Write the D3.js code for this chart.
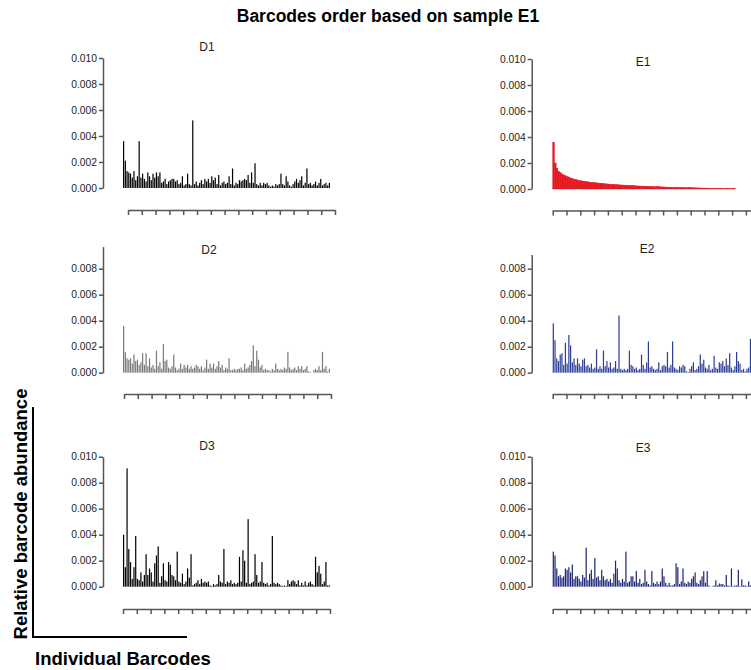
<!DOCTYPE html>
<html>
<head>
<meta charset="utf-8">
<script src="https://cdn.jsdelivr.net/npm/d3@7"></script>
<style>
  body { margin: 0; background: #fff; }
  text { font-family: "Liberation Sans", Arial, sans-serif; }
</style>
</head>
<body>
<div id="chart"></div>
<script>
// relative barcode abundance, in units of 1e-4, barcodes ordered by E1
const D1 = [36,21,13,12,11,8,13,6,9,36, 8,11,7,5,12,9,6,11,8,12,
  9,12,4,5,7,3,5,6,7,7, 5,6,3,4,9,2,3,11,3,2,
  52,3,5,2,4,6,3,7,5,7, 4,9,6,8,3,10,2,4,5,3,
  4,9,3,15,2,4,3,6,5,6, 7,6,10,4,12,4,19,3,2,4,
  2,4,3,4,2,1,2,1,3,2, 3,11,3,2,9,5,2,1,3,5,
  7,4,6,9,2,4,15,3,4,2, 3,5,2,4,7,2,3,4,2,4];
const D2 = [36,16,11,10,11,7,14,9,10,6, 8,15,6,15,5,11,4,6,3,17,
  5,8,3,22,9,10,4,3,5,14, 4,2,3,7,3,6,4,6,3,5,
  3,4,6,5,3,5,2,4,10,3, 7,4,7,3,5,9,4,6,2,4,
  3,11,2,2,3,2,3,3,4,2, 7,3,4,6,9,21,5,17,10,4,
  6,2,3,2,2,1,3,2,7,3, 2,3,2,4,3,16,4,2,3,4,
  2,5,3,5,2,3,5,1,0.5,0, 2,3,2,5,2,16,3,5,1,3];
const D3 = [40,15,91,29,19,6,15,39,6,5, 11,4,9,25,9,14,11,4,18,24,
  31,3,8,18,5,4,19,17,9,8, 5,27,4,3,10,2,4,14,7,25,
  1,2,3,5,2,6,3,4,3,4, 1,0.5,2,1,2,9,4,3,29,2,
  4,3,5,2,3,2,3,23,4,28, 20,3,52,2,3,4,25,9,3,4,
  19,3,2,3,1,2,39,3,2,3, 2,1,0.5,1,0.5,5,2,4,5,4,
  2,5,1,3,1,4,1,3,4,2, 1,23,11,16,10,2,4,19,1,1];
const E1 = [36,20,16,13.5,12.5,11.5,10.8,10.2,9.6,9.0, 8.5,8.0,7.5,7.2,6.9,6.6,6.3,6.1,5.9,5.7,
  5.5,5.3,5.1,5.0,4.9,4.7,4.6,4.4,4.3,4.2, 4.0,3.9,3.8,3.7,3.6,3.5,3.4,3.3,3.2,3.1,
  3.0,2.95,2.9,2.8,2.7,2.6,2.55,2.5,2.4,2.35, 2.3,2.25,2.2,2.1,2.05,2.0,1.95,1.9,1.8,1.78,
  1.75,1.7,1.65,1.6,1.55,1.5,1.45,1.4,1.38,1.35, 1.3,1.27,1.24,1.2,1.17,1.14,1.1,1.07,1.04,1.0,
  0.97,0.94,0.9,0.87,0.84,0.8,0.77,0.74,0.7,0.67, 0.64,0.6,0.57,0.54,0.51,0.48,0.45,0.43,0.4,0.38,
  0.35,0.33,0.3,0.28,0.26,0.24,0,0,0,0, 0,0,0,0,0,0,0,0,0,0];
const E2 = [38,25,11,9,14,15,6,23,7,29, 21,8,11,6,11,7,5,10,11,5,
  6,4,7,3,4,18,3,5,3,17, 5,9,4,8,3,4,9,3,44,3,
  2,3,2,3,17,6,5,3,4,2, 3,14,6,3,8,24,4,5,3,2,
  3,8,2,5,6,5,16,4,6,24, 4,3,2,5,4,6,5,1,0.5,3,
  5,8,2,3,5,14,7,10,4,3, 6,2,3,13,4,3,8,7,9,5,
  11,6,15,4,2,5,16,9,7,2, 3,1,3,4,26,3,3,2,4,2];
const E3 = [27,24,14,8,9,7,8,14,13,15, 11,17,6,8,8,6,4,9,7,30,
  5,10,13,6,22,7,8,5,13,8, 5,6,4,6,3,10,20,14,5,3,
  6,4,27,3,4,8,8,4,12,3, 6,2,3,13,4,2,1,12,3,2,
  4,2,4,14,8,3,1,3,1,1, 2,18,15,2,4,14,3,2,4,3,
  6,8,11,3,2,5,8,12,3,12, 1,0,0.3,1,5,1,2.5,2,2,1,
  9,1,0.5,14,0.5,1,1,13,0.5,5.6, 1,1,0.5,4,1,2,1,0.5,1,0.5];

const yTicksFull = [0, 20, 40, 60, 80, 100];
const yTicksShort = [0, 20, 40, 60, 80];
const xTicks = d3.range(16);

const W = 751, H = 670;
const pxPerUnit = 1.3;   // 26px per 0.002
const plotW = 207;

const svg = d3.select('#chart').append('svg')
  .attr('width', W).attr('height', H);

svg.append('text')
  .attr('x', 388).attr('y', 22)
  .attr('text-anchor', 'middle')
  .attr('font-size', 17.5).attr('font-weight', 'bold')
  .text('Barcodes order based on sample E1');

const panels = [
  { name: 'D1', values: D1, color: '#000000', pad: 0.3, axisX: 103, base: 188, top: 100, ticks: yTicksFull, barX0: 123, axisX0: 128, xAxisY: 210, tx: 207, ty: 47 },
  { name: 'D2', values: D2, color: '#7a7a7a', pad: 0.3, axisX: 103, base: 372.7, top: 97, ticks: yTicksShort, barX0: 123, axisX0: 124, xAxisY: 394, tx: 209, ty: 250 },
  { name: 'D3', values: D3, color: '#000000', pad: 0.3, axisX: 103, base: 586.7, top: 100, ticks: yTicksFull, barX0: 123, axisX0: 123, xAxisY: 609, tx: 207, ty: 446 },
  { name: 'E1', values: E1, color: '#e3161d', pad: 0, axisX: 531.7, base: 189, top: 100, ticks: yTicksFull, barX0: 552.7, axisX0: 552.7, xAxisY: 210.5, tx: 643, ty: 62 },
  { name: 'E2', values: E2, color: '#2d3d98', pad: 0.3, axisX: 531.7, base: 372.7, top: 91, ticks: yTicksShort, barX0: 552.7, axisX0: 552.7, xAxisY: 394, tx: 647, ty: 249 },
  { name: 'E3', values: E3, color: '#1d2678', pad: 0.3, axisX: 531.7, base: 586.7, top: 100, ticks: yTicksFull, barX0: 552.7, axisX0: 552.7, xAxisY: 609, tx: 643, ty: 448 }
];

panels.forEach(p => {
  const g = svg.append('g').attr('class', 'panel');

  const y = d3.scaleLinear()
    .domain([0, p.top])
    .range([p.base, p.base - p.top * pxPerUnit]);

  const xb = d3.scaleBand()
    .domain(d3.range(p.values.length))
    .range([p.barX0, p.barX0 + plotW])
    .paddingInner(p.pad)
    .paddingOuter(0);

  const bars = g.selectAll('rect')
    .data(p.values)
    .enter()
      .append('rect')
      .attr('x', (d, i) => xb(i))
      .attr('width', xb.bandwidth())
      .attr('y', d => y(d))
      .attr('height', d => p.base - y(d))
      .attr('fill', p.color);

  // a solid area (no seams) when bars touch
  if (p.pad === 0) bars.filter(d => d > 0).attr('stroke', p.color).attr('stroke-width', 0.4);

  const yAxis = g.append('g')
    .attr('transform', `translate(${p.axisX},0)`)
    .call(d3.axisLeft(y)
      .tickValues(p.ticks)
      .tickSize(4)
      .tickSizeOuter(0)
      .tickPadding(2)
      .tickFormat(d => (d / 1e4).toFixed(3)));

  const xs = d3.scaleLinear().domain([0, 15]).range([p.axisX0, p.axisX0 + plotW]);
  const xAxis = g.append('g')
    .attr('transform', `translate(0,${p.xAxisY})`)
    .call(d3.axisBottom(xs)
      .tickValues(xTicks)
      .tickSize(5)
      .tickSizeOuter(0)
      .tickFormat(''));

  [yAxis, xAxis].forEach(a => {
    a.selectAll('path, line').attr('stroke', '#555').attr('stroke-width', 1.5);
    a.selectAll('text').attr('fill', '#222').attr('font-size', 10.3)
      .attr('font-family', '"Liberation Sans", Arial, sans-serif');
  });

  g.append('text')
    .attr('x', p.tx).attr('y', p.ty)
    .attr('text-anchor', 'middle')
    .attr('dominant-baseline', 'central')
    .attr('font-size', 12).attr('fill', '#222')
    .text(p.name);
});

// overall axes in the lower-left corner
svg.append('path')
  .attr('d', 'M33,407V637H187')
  .attr('fill', 'none').attr('stroke', '#000').attr('stroke-width', 2);

svg.append('text')
  .attr('transform', 'translate(27,514) rotate(-90)')
  .attr('text-anchor', 'middle')
  .attr('font-size', 18.5).attr('font-weight', 'bold')
  .text('Relative barcode abundance');

svg.append('text')
  .attr('x', 35).attr('y', 665)
  .attr('font-size', 18.5).attr('font-weight', 'bold')
  .text('Individual Barcodes');
</script>
</body>
</html>
